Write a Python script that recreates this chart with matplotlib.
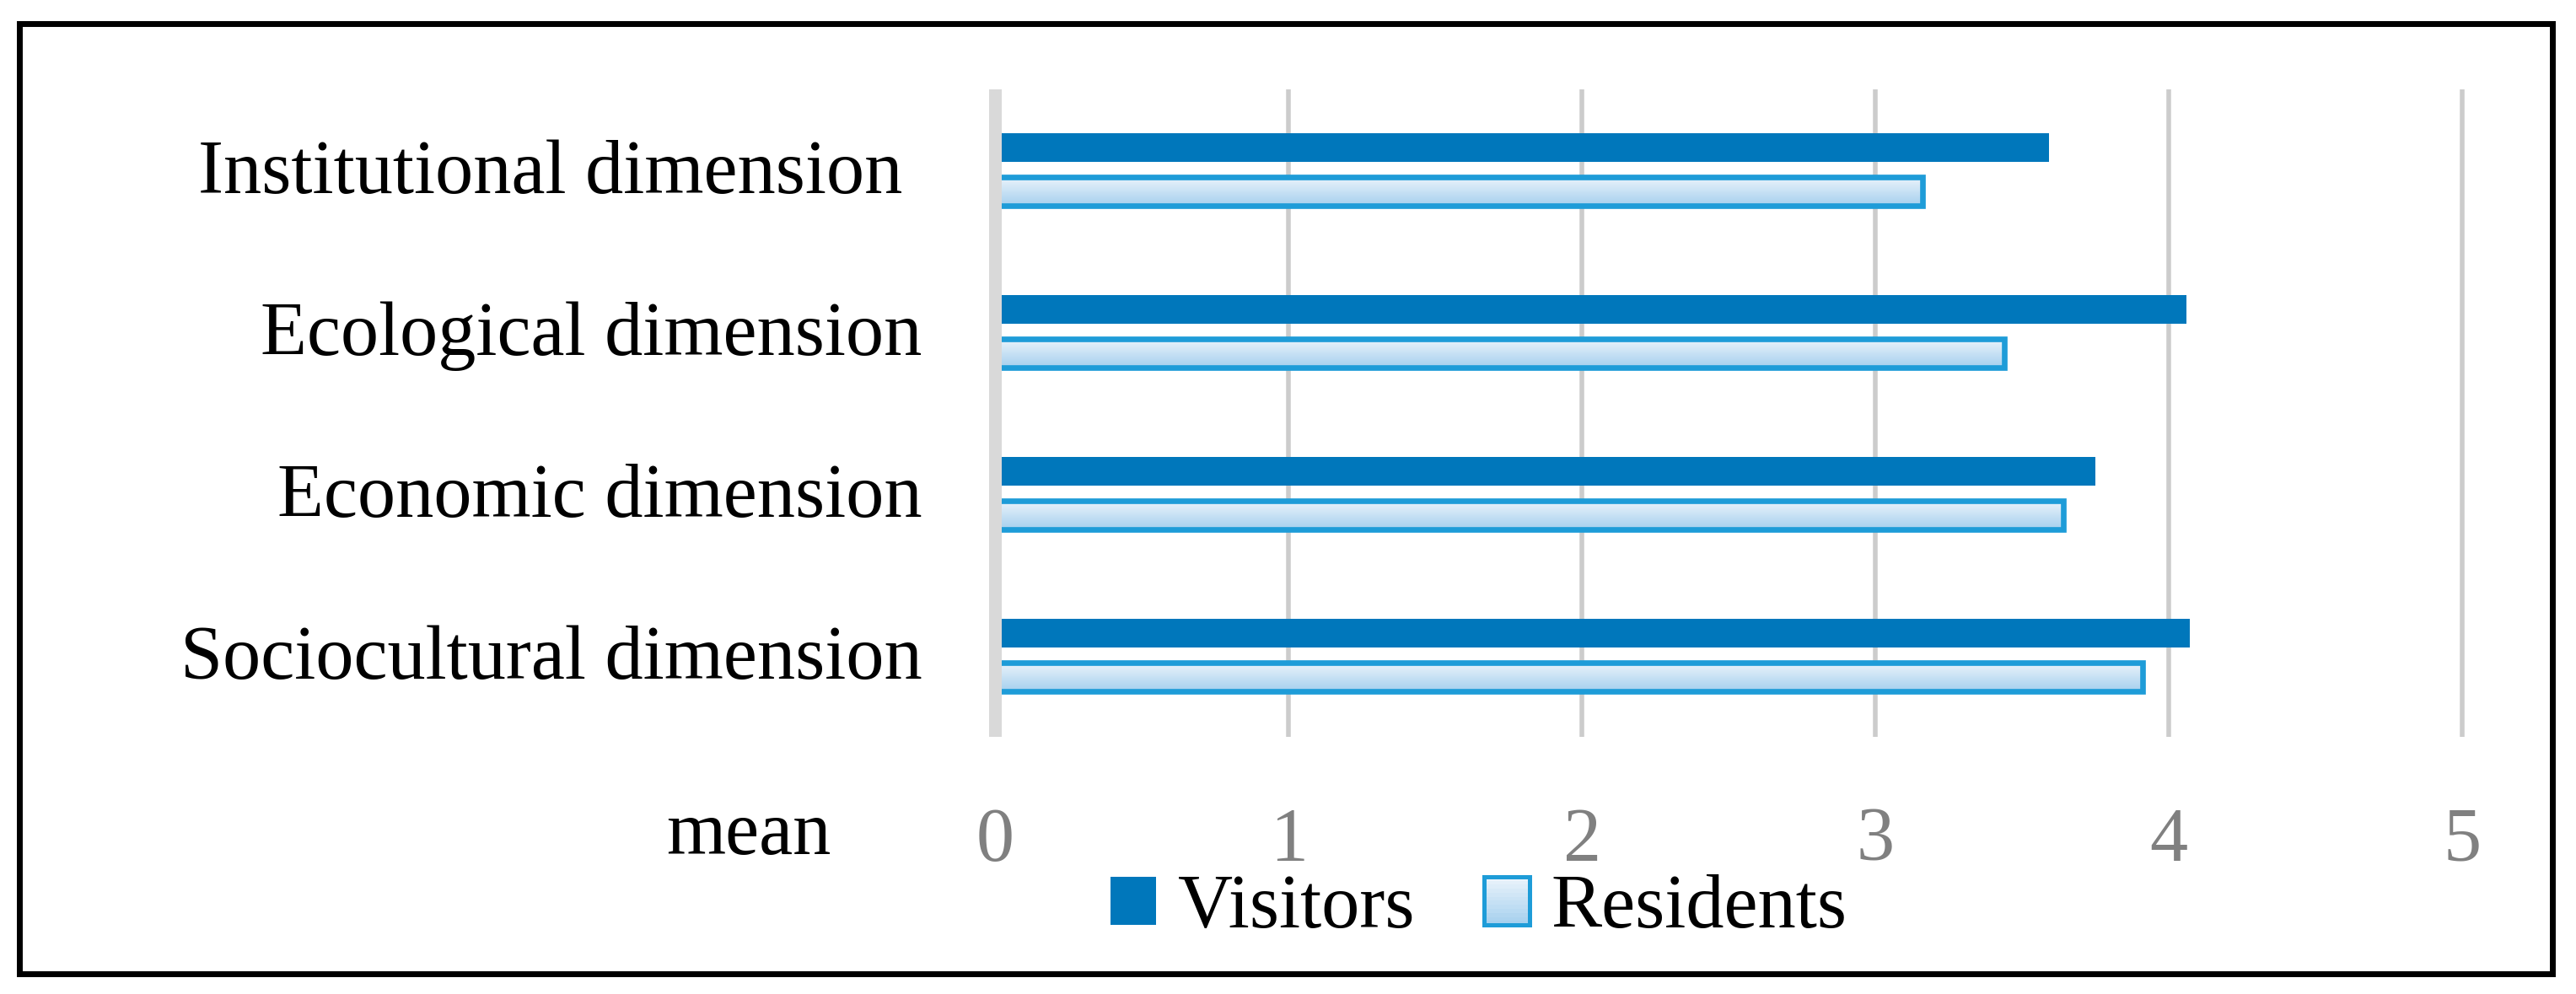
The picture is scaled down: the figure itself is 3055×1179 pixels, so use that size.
import numpy as np
import matplotlib
matplotlib.use("Agg")
import matplotlib.pyplot as plt
import matplotlib.transforms as mtransforms
from matplotlib.patches import Rectangle
from matplotlib.legend_handler import HandlerBase
from matplotlib.colors import to_rgb, LinearSegmentedColormap

categories = ["Institutional dimension ", "Ecological dimension",
              "Economic dimension", "Sociocultural dimension"]
visitors = [3.59, 4.06, 3.75, 4.07]
residents = [3.16, 3.44, 3.64, 3.91]
x_ticks = [0, 1, 2, 3, 4, 5]

VIS_COLOR = "#0077bb"
RES_EDGE = "#1e9cd8"
GRAD_TOP = "#eaf3fb"
GRAD_BOT = "#a6d0ee"

plt.rcParams["font.family"] = ["Liberation Serif", "DejaVu Serif"]
FS = 65


class GradientHandler(HandlerBase):
    # legend key for residents: vertical gradient with blue border
    def create_artists(self, legend, orig_handle, xdescent, ydescent,
                       width, height, fontsize, trans):
        arts = []
        n = 12
        c1 = np.array(to_rgb(GRAD_TOP))
        c2 = np.array(to_rgb(GRAD_BOT))
        for i in range(n):
            t = i / (n - 1)
            col = c1 * (1 - t) + c2 * t
            r = Rectangle((-xdescent, -ydescent + height * (1 - (i + 1) / n)),
                          width, height / n, facecolor=col, edgecolor="none",
                          transform=trans)
            arts.append(r)
        arts.append(Rectangle((-xdescent, -ydescent), width, height,
                              facecolor="none", edgecolor=RES_EDGE, lw=3.6,
                              transform=trans))
        return arts


fig = plt.figure(figsize=(30.55, 11.79), dpi=100)
ax = fig.add_axes([0.3806, 0.2587, 0.581, 0.6514])

y = np.arange(len(categories))
vis_bars = ax.barh(y - 0.141, visitors, height=0.175, color=VIS_COLOR,
                   zorder=2, label="Visitors")
res_bars = ax.barh(y + 0.130, residents, height=0.173, facecolor="none",
                   edgecolor=RES_EDGE, linewidth=4.8, zorder=3,
                   label="Residents")

grad = np.linspace(0, 1, 256).reshape(-1, 1)
cmap = LinearSegmentedColormap.from_list("g", [GRAD_TOP, GRAD_BOT])
for p in res_bars.patches:
    x0, y0 = p.get_x(), p.get_y()
    w, hh = p.get_width(), p.get_height()
    im = ax.imshow(grad, cmap=cmap, extent=[x0, x0 + w, y0 + hh, y0],
                   aspect="auto", zorder=2.5, interpolation="bilinear")
    im.set_clip_path(p)

ax.set_xlim(-0.05, 5.05)
ax.set_ylim(3.5, -0.5)
ax.set_xticks(x_ticks)
ax.set_xticklabels([str(t) for t in x_ticks], fontsize=FS, color="#808080")
ax.set_yticks(y)
ax.set_yticklabels(categories, fontsize=FS, color="black")
ax.tick_params(axis="both", length=0)
ax.tick_params(axis="y", pad=50)
ax.tick_params(axis="x", pad=60)
shift = mtransforms.ScaledTranslation(0, -0.05, fig.dpi_scale_trans)
for lbl in ax.get_yticklabels():
    lbl.set_va("center")
    lbl.set_transform(lbl.get_transform() + shift)

for t in x_ticks[1:]:
    ax.axvline(t, color="#cccccc", lw=4, zorder=1)
ax.axvline(0, color="#d9d9d9", lw=10.8, zorder=4)

for s in ax.spines.values():
    s.set_visible(False)

fig.text(986 / 3055, 1 - 1013 / 1179, "mean", fontsize=FS, ha="right",
         va="baseline")

fig.legend(handles=[vis_bars, res_bars], labels=["Visitors", "Residents"],
           handler_map={res_bars: GradientHandler()},
           loc="center", bbox_to_anchor=(1754 / 3055, 1 - 1078 / 1179),
           ncol=2, frameon=False, fontsize=FS, handlelength=0.6,
           handleheight=0.6, handletextpad=0.28, columnspacing=0.92,
           borderpad=0)

fig.patches.append(Rectangle((23 / 3055, 1 - 1155 / 1179), (3027 - 23) / 3055,
                             (1155 - 28) / 1179, transform=fig.transFigure,
                             fill=False, edgecolor="black", lw=5))

fig.savefig("out.png", dpi=100)
